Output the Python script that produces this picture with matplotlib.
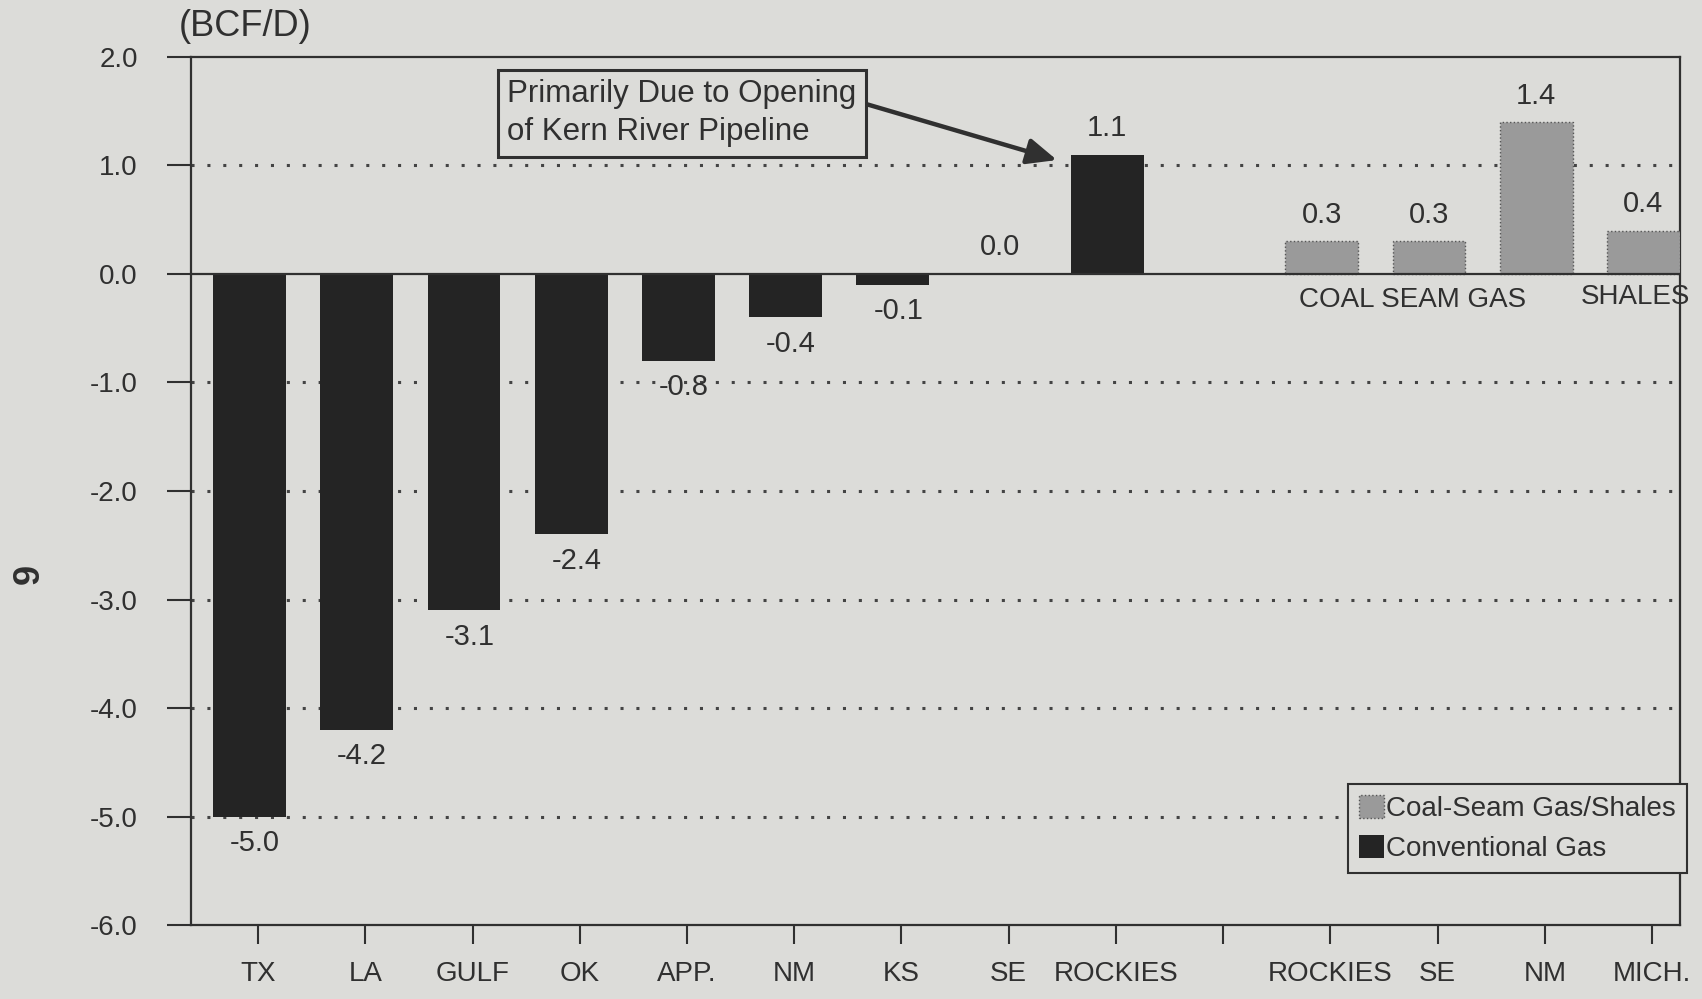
import matplotlib
matplotlib.use("Agg")
import matplotlib.pyplot as plt
import numpy as np

plt.rcParams['font.family'] = ['Liberation Sans', 'DejaVu Sans']

# conventional gas by region (slots 0-8), coal-seam gas / shales (slots 10-13)
conv_labels = ['TX', 'LA', 'GULF', 'OK', 'APP.', 'NM', 'KS', 'SE', 'ROCKIES']
conv_values = [-5.0, -4.2, -3.1, -2.4, -0.8, -0.4, -0.1, 0.0, 1.1]
coal_labels = ['ROCKIES', 'SE', 'NM', 'MICH.']
coal_values = [0.3, 0.3, 1.4, 0.4]
yticks = [2.0, 1.0, 0.0, -1.0, -2.0, -3.0, -4.0, -5.0, -6.0]

paper = '#dcdcd9'
ink = '#303030'
dark = '#242424'
light = '#9a9a9a'

fig = plt.figure(figsize=(17.02, 9.99), dpi=100, facecolor=paper)
ax = fig.add_axes([0.112, 0.074, 0.875, 0.869], facecolor=paper)

conv_x = np.arange(len(conv_labels))
coal_x = np.arange(len(coal_labels)) + len(conv_labels) + 1
shift = -0.08
w = 0.68

ax.bar(conv_x + shift, conv_values, width=w, color=dark, zorder=3,
       label='Conventional Gas')
ax.bar(coal_x + shift, coal_values, width=w, color=light, edgecolor='#555555',
       linewidth=1.0, linestyle=':', zorder=3, label='Coal-Seam Gas/Shales')

# value labels
for x, v in list(zip(conv_x, conv_values)) + list(zip(coal_x, coal_values)):
    if v < 0:
        ax.annotate(f'{v:.1f}', (x + shift + 0.05, v), xytext=(0, -9),
                    textcoords='offset points', ha='center', va='top',
                    fontsize=21, color=ink)
    else:
        ax.annotate(f'{v:.1f}', (x + shift, v), xytext=(0, 9),
                    textcoords='offset points', ha='center', va='bottom',
                    fontsize=21, color=ink)

# dotted reference lines and solid zero line
for y in [1, -1, -2, -3, -4, -5]:
    ax.axhline(y, color='#444444', linestyle=(0, (1, 4.2)), linewidth=2.2,
               zorder=1)
ax.axhline(0, color=ink, linewidth=1.6, zorder=4)

ax.set_ylim(-6, 2)
ax.set_yticks(yticks)
ax.set_yticklabels([f'{t:.1f}' for t in yticks])
all_x = list(conv_x) + [len(conv_labels)] + list(coal_x)
all_labels = conv_labels + [''] + coal_labels
ax.set_xticks(all_x)
ax.set_xticklabels(all_labels)
ax.set_xlim(-0.63, 13.26)

ax.tick_params(axis='y', length=17, width=1.5, pad=21, labelsize=20,
               colors=ink)
ax.tick_params(axis='x', length=14, width=1.5, pad=12, labelsize=20,
               colors=ink)
for s in ax.spines.values():
    s.set_color(ink)
    s.set_linewidth(1.6)

fig.text(0.105, 0.973, '(BCF/D)', fontsize=26, color=ink, ha='left',
         va='center')
ax.text(10.77, -0.24, 'COAL SEAM GAS', fontsize=20, color=ink, ha='center',
        va='center')
ax.text(12.85, -0.21, 'SHALES', fontsize=20, color=ink, ha='center',
        va='center')

ax.annotate('Primarily Due to Opening\nof Kern River Pipeline',
            xy=(7.45, 1.05), xytext=(2.32, 1.48), fontsize=22.5, color=ink,
            ha='left', va='center', linespacing=1.35,
            bbox=dict(boxstyle='square,pad=0.3', facecolor=paper,
                      edgecolor=ink, linewidth=2.2),
            arrowprops=dict(arrowstyle='-|>,head_length=0.8,head_width=0.35',
                            color=ink, linewidth=3.2, shrinkA=0, shrinkB=0,
                            relpos=(1.0, 0.68)),
            zorder=5)

handles, labels = ax.get_legend_handles_labels()
leg = ax.legend(handles[::-1], labels[::-1], loc='lower right',
                bbox_to_anchor=(1.005, 0.06), fontsize=20,
                frameon=True, fancybox=False, handlelength=0.9,
                handleheight=0.9, handletextpad=0.1, borderpad=0.4,
                labelspacing=0.45, borderaxespad=0)
leg.get_frame().set_facecolor(paper)
leg.get_frame().set_edgecolor(ink)
leg.get_frame().set_linewidth(1.5)
leg.get_frame().set_alpha(1)
for t in leg.get_texts():
    t.set_color(ink)

fig.text(0.017, 0.425, '9', rotation=90, fontsize=26, fontweight='bold',
         color=ink, ha='center', va='center')

fig.savefig('out.png', dpi=100, facecolor=paper)
